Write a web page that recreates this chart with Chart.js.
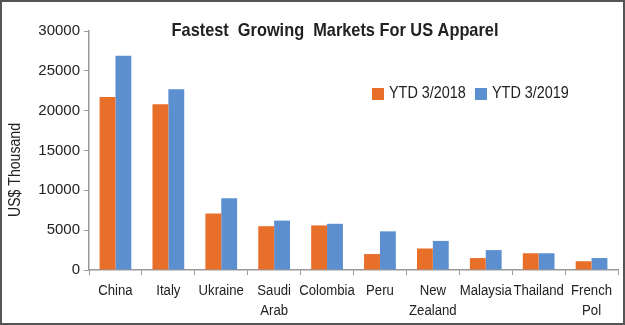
<!DOCTYPE html>
<html>
<head>
<meta charset="utf-8">
<script src="https://cdn.jsdelivr.net/npm/chart.js@4"></script>
<style>
  html, body { margin: 0; padding: 0; background: #fff; }
  #wrap { width: 625px; height: 325px; position: relative; }
</style>
</head>
<body>
<div id="wrap"><canvas id="chart"></canvas></div>
<script>
const categories = ['China', 'Italy', 'Ukraine', ['Saudi', 'Arab'], 'Colombia', 'Peru', ['New', 'Zealand'], 'Malaysia', 'Thailand', ['French', 'Pol']];
const ytd2018 = [21700, 20800, 7100, 5500, 5600, 2000, 2700, 1500, 2100, 1100];
const ytd2019 = [26900, 22700, 9000, 6200, 5800, 4850, 3650, 2500, 2100, 1500];
const seriesNames = ['YTD 3/2018', 'YTD 3/2019'];
const yTicks = [0, 5000, 10000, 15000, 20000, 25000, 30000];
const chartTitle = 'Fastest  Growing  Markets For US Apparel';
const yTitle = 'US$ Thousand';

const orange = '#E86F2A';
const blue = '#5B8FD0';
const sans = '"Liberation Sans", Arial, sans-serif';

// squeeze text horizontally so the plain sans looks like the condensed face
function squeezed(ctx, text, x, y, factor) {
  ctx.save();
  ctx.translate(x, y);
  ctx.scale(factor, 1);
  ctx.fillText(text, 0, 0);
  ctx.restore();
}

// title, legend, axis title, category labels and frame are drawn by hand
const decorations = {
  id: 'decorations',
  afterDraw(chart) {
    const ctx = chart.ctx;
    ctx.save();
    ctx.strokeStyle = '#555';
    ctx.lineWidth = 2;
    ctx.strokeRect(1, 1, chart.width - 2, chart.height - 2);

    ctx.fillStyle = '#222';
    ctx.textBaseline = 'middle';
    ctx.textAlign = 'center';
    ctx.font = 'bold 19px ' + sans;
    squeezed(ctx, chartTitle, 335, 31, 0.86);

    // category labels at the x scale's own tick positions
    const xs = chart.scales.x;
    ctx.font = '15.5px ' + sans;
    chart.data.labels.forEach((lab, i) => {
      const lines = Array.isArray(lab) ? lab : [lab];
      const px = xs.getPixelForTick(i);
      lines.forEach((t, j) => squeezed(ctx, t, px, 291 + j * 20, 0.85));
    });

    ctx.save();
    ctx.translate(16, 170);
    ctx.rotate(-Math.PI / 2);
    ctx.font = '16px ' + sans;
    squeezed(ctx, yTitle, 0, 0, 0.88);
    ctx.restore();

    ctx.textAlign = 'left';
    ctx.font = '16px ' + sans;
    let x = 372;
    chart.data.datasets.forEach(ds => {
      ctx.fillStyle = ds.backgroundColor;
      ctx.fillRect(x, 88, 12, 12);
      ctx.fillStyle = '#222';
      squeezed(ctx, ds.label, x + 17, 94, 0.9);
      x += 103;
    });
    ctx.restore();
  }
};

new Chart(document.getElementById('chart'), {
  type: 'bar',
  data: {
    labels: categories,
    datasets: [
      { label: seriesNames[0], data: ytd2018, backgroundColor: orange },
      { label: seriesNames[1], data: ytd2019, backgroundColor: blue }
    ]
  },
  options: {
    responsive: true,
    maintainAspectRatio: false,
    animation: false,
    layout: { padding: { top: 31, right: 7, left: 6, bottom: 0 } },
    datasets: { bar: { categoryPercentage: 0.6, barPercentage: 1 } },
    plugins: {
      legend: { display: false },
      title: { display: false },
      tooltip: { enabled: false }
    },
    scales: {
      x: {
        border: { color: '#999', width: 1.5 },
        grid: { display: true, offset: true, drawOnChartArea: false, drawTicks: true, tickLength: 5, color: '#999' },
        ticks: { display: false, autoSkip: false, maxRotation: 0 },
        afterFit(scale) { scale.height = 55; }
      },
      y: {
        min: 0,
        max: 30000,
        afterBuildTicks(scale) { scale.ticks = yTicks.map(v => ({ value: v })); },
        border: { color: '#999', width: 1.5 },
        grid: { display: true, drawOnChartArea: false, drawTicks: true, tickLength: 5, color: '#999' },
        ticks: { color: '#222', font: { family: sans, size: 15 }, padding: 4, callback: v => String(v) },
        afterFit(scale) { scale.width = 83; }
      }
    }
  },
  plugins: [decorations]
});
</script>
</body>
</html>
